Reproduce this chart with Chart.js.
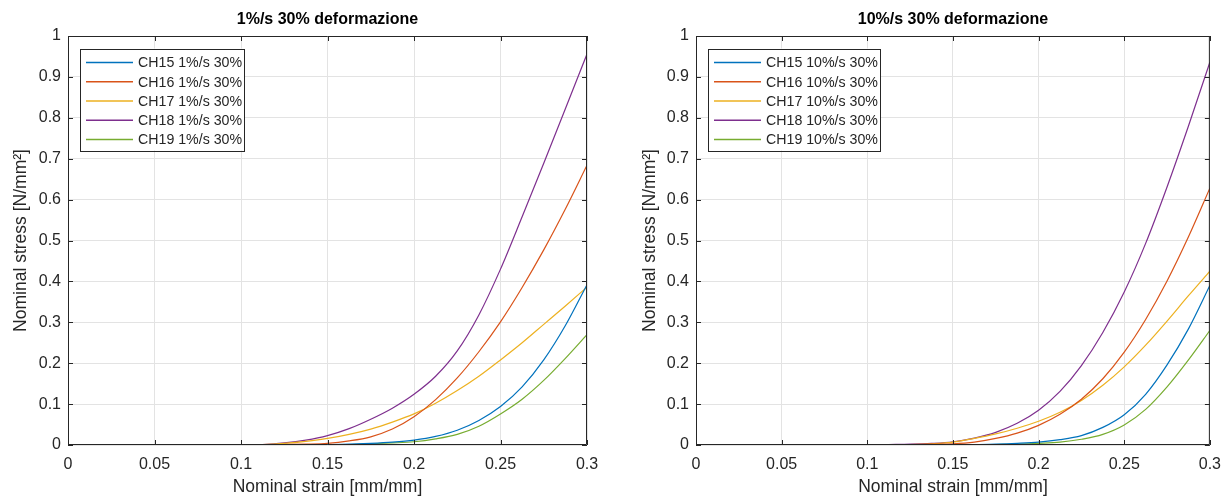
<!DOCTYPE html>
<html>
<head>
<meta charset="utf-8">
<script src="https://cdn.jsdelivr.net/npm/chart.js@4.4.1/dist/chart.umd.min.js"></script>
<style>
  body { margin: 0; background: #fff; }
  .wrap { position: absolute; top: 0; }
</style>
</head>
<body>
<div class="wrap" style="left:0"><canvas id="left" width="615" height="496"></canvas></div>
<div class="wrap" style="left:615px"><canvas id="right" width="616" height="496"></canvas></div>
<script>
// dati (strain, stress)
const strainL = [0, 0.05, 0.1, 0.1125, 0.125, 0.1375, 0.15, 0.1625, 0.175, 0.1875, 0.2, 0.2125, 0.225, 0.2375, 0.25, 0.2625, 0.275, 0.2875, 0.3];
const ch15L = [0, 0, 0, 0, 0, 0.001, 0.001, 0.002, 0.004, 0.007, 0.012, 0.021, 0.036, 0.06, 0.094, 0.142, 0.208, 0.292, 0.392];
const ch16L = [0, 0, 0, 0, 0.001, 0.002, 0.004, 0.01, 0.02, 0.039, 0.069, 0.111, 0.164, 0.228, 0.301, 0.385, 0.477, 0.577, 0.684];
const ch17L = [0, 0, 0, 0.001, 0.004, 0.009, 0.016, 0.026, 0.039, 0.056, 0.076, 0.102, 0.133, 0.168, 0.208, 0.25, 0.295, 0.34, 0.386];
const ch18L = [0, 0, 0, 0.001, 0.005, 0.012, 0.023, 0.04, 0.063, 0.09, 0.124, 0.168, 0.23, 0.318, 0.43, 0.558, 0.689, 0.822, 0.956];
const ch19L = [0, 0, 0, 0, 0, 0, 0.001, 0.001, 0.003, 0.005, 0.008, 0.015, 0.026, 0.046, 0.076, 0.112, 0.158, 0.212, 0.27];

const strainR = [0.025, 0.05, 0.1, 0.1125, 0.125, 0.1375, 0.15, 0.1625, 0.175, 0.1875, 0.2, 0.2125, 0.225, 0.2375, 0.25, 0.2625, 0.275, 0.2875, 0.3];
const ch15R = [0, 0, 0, 0, 0, 0, 0.001, 0.001, 0.002, 0.004, 0.007, 0.013, 0.023, 0.043, 0.074, 0.124, 0.196, 0.284, 0.39];
const ch16R = [0, 0, 0, 0, 0.001, 0.002, 0.003, 0.007, 0.016, 0.029, 0.048, 0.075, 0.112, 0.162, 0.227, 0.307, 0.401, 0.509, 0.628];
const ch17R = [0, 0, 0, 0, 0.001, 0.003, 0.007, 0.016, 0.027, 0.041, 0.058, 0.08, 0.109, 0.146, 0.191, 0.244, 0.303, 0.365, 0.425];
const ch18R = [0, 0, 0, 0.001, 0.002, 0.004, 0.008, 0.017, 0.031, 0.053, 0.085, 0.131, 0.194, 0.275, 0.374, 0.493, 0.631, 0.78, 0.936];
const ch19R = [0, 0, 0, 0, 0, 0, 0, 0, 0.001, 0.002, 0.004, 0.007, 0.014, 0.026, 0.049, 0.087, 0.142, 0.208, 0.28];

const campioni = ["CH15", "CH16", "CH17", "CH18", "CH19"];
const colori = ["#0072BD", "#D95319", "#EDB120", "#7E2F8E", "#77AC30"];
const xTicks = [0, 0.05, 0.1, 0.15, 0.2, 0.25, 0.3];
const yTicks = [0, 0.1, 0.2, 0.3, 0.4, 0.5, 0.6, 0.7, 0.8, 0.9, 1];

const FONT = "'Liberation Sans', Arial, Helvetica, sans-serif";
const TXT = "#262626";

function punti(xs, ys) {
  return xs.map((x, i) => ({ x: x, y: ys[i] }));
}

// box stile matlab con tacche interne + titolo + legenda
const matlabPlugin = {
  id: "matlab",
  afterDraw(chart, args, opts) {
    const { ctx, chartArea: a, scales } = chart;
    ctx.save();
    ctx.strokeStyle = TXT;
    ctx.lineWidth = 1;
    ctx.beginPath();
    ctx.rect(a.left + 0.5, a.top + 0.5, a.right - a.left - 1, a.bottom - a.top - 1);
    ctx.stroke();
    const tl = 5;
    ctx.beginPath();
    scales.x.ticks.forEach(t => {
      const px = Math.round(scales.x.getPixelForValue(t.value)) + 0.5;
      ctx.moveTo(px, a.bottom); ctx.lineTo(px, a.bottom - tl);
      ctx.moveTo(px, a.top); ctx.lineTo(px, a.top + tl);
    });
    scales.y.ticks.forEach(t => {
      const py = Math.round(scales.y.getPixelForValue(t.value)) + 0.5;
      ctx.moveTo(a.left, py); ctx.lineTo(a.left + tl, py);
      ctx.moveTo(a.right, py); ctx.lineTo(a.right - tl, py);
    });
    ctx.stroke();

    // titolo
    ctx.fillStyle = "#000";
    ctx.font = "bold 16px " + FONT;
    ctx.textAlign = "center";
    ctx.textBaseline = "middle";
    ctx.fillText(opts.titolo, (a.left + a.right) / 2, 20);

    // legenda
    ctx.font = "14.2px " + FONT;
    ctx.textAlign = "left";
    const ds = chart.data.datasets;
    let tw = 0;
    ds.forEach(d => { tw = Math.max(tw, ctx.measureText(d.label).width); });
    const bx = a.left + 12, by = a.top + 12.5;
    const bw = 6 + 47 + 5 + tw + 2, bh = 102;
    ctx.fillStyle = "#fff";
    ctx.fillRect(bx, by, bw, bh);
    ctx.strokeStyle = TXT;
    ctx.strokeRect(Math.round(bx) + 0.5, Math.round(by) + 0.5, Math.round(bw), bh);
    ds.forEach((d, i) => {
      const ry = by + 14 + i * 19.25;
      ctx.strokeStyle = d.borderColor;
      ctx.lineWidth = 1.3;
      ctx.beginPath();
      ctx.moveTo(bx + 6, ry); ctx.lineTo(bx + 53, ry);
      ctx.stroke();
      ctx.fillStyle = TXT;
      ctx.fillText(d.label, bx + 58, ry + 1);
    });
    ctx.restore();
  }
};

function creaGrafico(id, xs, serie, velocita, titolo, yWidth, padRight, yTitlePad) {
  const datasets = serie.map((ys, i) => ({
    label: `${campioni[i]} ${velocita} 30%`,
    data: punti(xs, ys),
    borderColor: colori[i],
    borderWidth: 1.2,
    pointRadius: 0,
    fill: false,
    cubicInterpolationMode: "monotone"
  }));
  return new Chart(document.getElementById(id), {
    type: "line",
    data: { datasets },
    plugins: [matlabPlugin],
    options: {
      responsive: false,
      animation: false,
      layout: { padding: { top: 36, right: padRight, left: 0, bottom: 0 } },
      plugins: {
        legend: { display: false },
        tooltip: { enabled: false },
        matlab: { titolo: titolo }
      },
      scales: {
        x: {
          type: "linear",
          min: 0, max: 0.3,
          afterBuildTicks: s => { s.ticks = xTicks.map(v => ({ value: v })); },
          afterFit: s => { s.height = 51; },
          grid: { color: "#e3e3e3", drawTicks: false },
          border: { display: false },
          ticks: {
            color: TXT, padding: 10, maxRotation: 0,
            font: { family: FONT, size: 16 },
            callback: v => String(Number(v.toFixed(2)))
          },
          title: {
            display: true, text: "Nominal strain [mm/mm]", color: TXT,
            font: { family: FONT, size: 17.5, lineHeight: 1 },
            padding: { top: 0, bottom: 0.5 }
          }
        },
        y: {
          type: "linear",
          min: 0, max: 1,
          afterBuildTicks: s => { s.ticks = yTicks.map(v => ({ value: v })); },
          afterFit: s => { s.width = yWidth; },
          grid: { color: "#e3e3e3", drawTicks: false },
          border: { display: false },
          ticks: {
            color: TXT, padding: 7,
            font: { family: FONT, size: 16 },
            callback: v => String(Number(v.toFixed(1)))
          },
          title: {
            display: true, text: "Nominal stress [N/mm²]", color: TXT,
            font: { family: FONT, size: 17.5, lineHeight: 1 },
            padding: { top: yTitlePad, bottom: 0 }
          }
        }
      }
    }
  });
}

creaGrafico("left", strainL, [ch15L, ch16L, ch17L, ch18L, ch19L], "1%/s", "1%/s 30% deformazione", 68, 28, 12);
creaGrafico("right", strainR, [ch15R, ch16R, ch17R, ch18R, ch19R], "10%/s", "10%/s 30% deformazione", 81, 16, 26);
</script>
</body>
</html>
